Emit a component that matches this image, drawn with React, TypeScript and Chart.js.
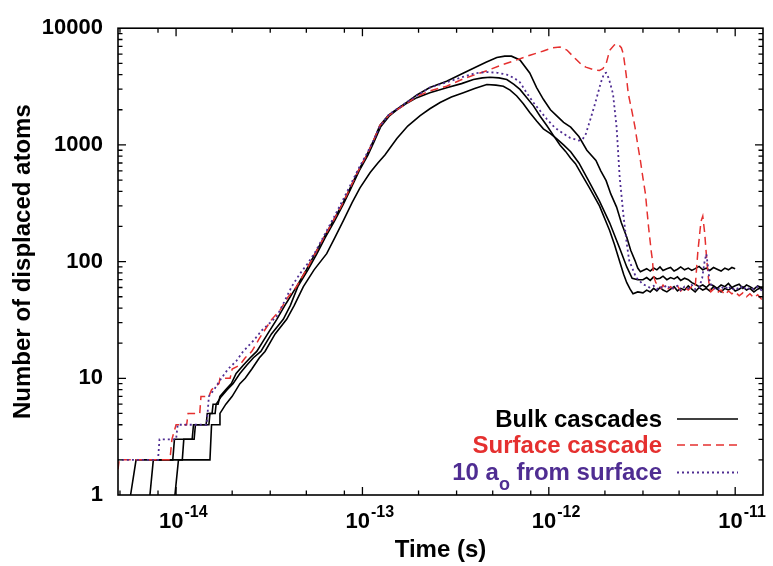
import React, { useEffect, useRef } from 'react';
import { Chart, registerables } from 'chart.js';

Chart.register(...registerables);

// ---------- data (time in femtoseconds, number of displaced atoms) ----------
const bulkA: [number, number][] = [
  [5.7, 1], [6.1, 2], [9.6, 2], [9.8, 3], [12.5, 3], [12.7, 4], [14.5, 4], [14.7, 5], [15.6, 5], [15.8, 6],
  [16.8, 6], [17.2, 7], [18.5, 8], [19.8, 9], [21, 11], [23, 13], [25, 15], [27.1, 17], [31, 24], [34.7, 32],
  [39, 44], [44.3, 61], [50, 85], [55.7, 117], [62, 160], [69.8, 224], [78, 310], [86, 429], [95, 600],
  [105.5, 819], [115, 1100], [124, 1466], [138, 1800], [153, 2027], [175, 2350], [196, 2680], [230, 3100],
  [283, 3510], [340, 4050], [394, 4540], [460, 5100], [526, 5600], [580, 5760], [630, 5760], [700, 5350],
  [790, 4130], [860, 3100], [935, 2460], [1020, 2000], [1100, 1780], [1200, 1560], [1310, 1420], [1450, 1180],
  [1600, 900], [1790, 735], [1900, 600], [2030, 494], [2150, 380], [2310, 293], [2450, 215], [2620, 162],
  [2750, 125], [2900, 102], [3000, 88], [3100, 82],
  [3200, 84], [3350, 87], [3500, 83], [3650, 88], [3800, 85], [3950, 90], [4100, 84], [4300, 87], [4500, 89],
  [4700, 83], [4900, 86], [5100, 90], [5350, 85], [5600, 88], [5850, 84], [6100, 87], [6400, 91], [6700, 85],
  [7000, 88], [7300, 84], [7650, 89], [8000, 86], [8400, 83], [8800, 88], [9200, 85], [9600, 89], [10000, 87],
];

const bulkB: [number, number][] = [
  [7.24, 1], [7.55, 2], [10.8, 2], [11, 3], [12.2, 3], [12.4, 4], [15, 4], [15.2, 5], [16.2, 5], [16.4, 6],
  [17.5, 7], [18.8, 8], [20.2, 9], [22, 11], [24, 13], [26, 15], [28.5, 17], [32.5, 24], [37.6, 32], [41, 42],
  [45, 61], [51, 85], [57, 117], [63, 160], [71, 224], [79, 310], [87, 429], [96, 600], [107, 819], [116, 1080],
  [125, 1420], [139, 1760], [153, 2000], [175, 2300], [196, 2540], [230, 2800], [283, 3085], [340, 3350],
  [394, 3630], [440, 3750], [484, 3800], [540, 3750], [595, 3630], [650, 3300], [700, 2990], [760, 2550],
  [827, 2160], [900, 1750], [975, 1466], [1060, 1200], [1150, 995], [1230, 880], [1310, 767], [1390, 690],
  [1500, 560], [1650, 430], [1870, 300], [2120, 185], [2250, 140], [2400, 100], [2520, 78], [2620, 66],
  [2730, 58], [2830, 53],
  [3000, 55], [3200, 54], [3350, 57], [3500, 55], [3650, 59], [3800, 56], [3950, 60], [4100, 57], [4300, 55],
  [4500, 58], [4700, 61], [4900, 56], [5100, 59], [5350, 57], [5600, 62], [5850, 58], [6100, 55], [6400, 60],
  [6700, 57], [7000, 59], [7300, 56], [7650, 61], [8000, 58], [8400, 55], [8800, 59], [9200, 57], [9600, 60],
  [10000, 56], [10500, 58], [11000, 61], [11500, 57], [12000, 59], [12600, 55], [13200, 58], [13800, 60], [14100, 57],
];

const bulkC: [number, number][] = [
  [9.86, 1], [10.3, 2], [15.2, 2], [15.5, 4], [17, 4], [17.2, 5], [18.5, 6], [20, 7], [22, 9], [23.5, 10],
  [25.5, 12], [28, 15], [30, 17], [34, 24], [39.2, 32], [43, 42], [48.2, 61], [55, 85], [64.3, 117], [71, 160],
  [79, 224], [88, 320], [97, 429], [110, 580], [121, 700], [132, 819], [153, 1133], [175, 1450], [204, 1780],
  [230, 2040], [261, 2305], [300, 2570], [348, 2800], [400, 3050], [465, 3296], [520, 3250], [570, 3185],
  [620, 2950], [673, 2624], [730, 2250], [790, 1897], [860, 1600], [935, 1374], [1020, 1250], [1100, 1133],
  [1200, 1000], [1310, 873], [1450, 700], [1650, 480], [1870, 330], [2120, 215], [2400, 130], [2620, 90],
  [2800, 72], [3000, 70],
  [3200, 70], [3350, 73], [3500, 69], [3650, 74], [3800, 71], [3950, 72], [4100, 75], [4300, 70], [4500, 73],
  [4700, 71], [4900, 74], [5100, 69], [5350, 72], [5600, 70], [5850, 66], [6100, 64], [6400, 61], [6700, 63],
  [7000, 60], [7300, 64], [7650, 62], [8000, 59], [8400, 63], [8800, 61], [9200, 65], [9600, 60], [10000, 62],
  [10500, 64], [11000, 59], [11500, 63], [12000, 61], [12600, 58], [13200, 62], [13800, 60], [14100, 61],
];

const surfaceCascade: [number, number][] = [
  [4.7, 1], [4.95, 2], [9.27, 2], [9.5, 3], [10, 4], [11.4, 4], [11.6, 5], [13.4, 5], [13.6, 7], [15, 7],
  [15.5, 8], [17, 9], [17.2, 10], [19.5, 10], [20, 12], [22, 13], [23.5, 15], [25.5, 17], [28, 22], [32.6, 32],
  [36, 38], [40, 50], [44.3, 61], [50, 85], [55.7, 117], [62, 160], [69.8, 224], [78, 310], [86, 429], [95, 600],
  [105.5, 819], [115, 1100], [124, 1466], [138, 1780], [153, 2000], [175, 2300], [196, 2600], [230, 2900],
  [283, 3185], [350, 3700], [465, 4325], [550, 4800], [673, 5350], [800, 5900], [935, 6370], [1050, 6800],
  [1150, 6900], [1250, 6500], [1390, 5470], [1500, 4850], [1580, 4640], [1750, 4400], [1870, 4345], [1950, 4500],
  [2030, 4955], [2120, 6445], [2250, 7200], [2350, 7350], [2450, 6800], [2510, 6040], [2600, 4000], [2670, 2740],
  [2800, 1900], [2900, 1420], [3000, 1000], [3100, 735], [3200, 520], [3300, 380], [3430, 197], [3550, 120],
  [3600, 102], [3650, 75], [3750, 66], [3900, 62],
  [4000, 59], [4100, 63], [4300, 57], [4500, 61], [4700, 58], [4900, 62], [5100, 56], [5350, 60], [5600, 57],
  [5850, 61], [6100, 60], [6300, 120], [6550, 220], [6700, 245], [6850, 180], [7050, 100], [7250, 62],
  [7400, 55], [7650, 58], [8000, 54], [8400, 57], [8800, 52], [9200, 56], [9600, 53], [10000, 55], [10500, 51],
  [11000, 54], [11500, 50], [12000, 53], [12600, 49], [13200, 52], [13800, 48], [14100, 50],
];

const nearSurface: [number, number][] = [
  [4, 2], [8, 2], [8.15, 3], [10, 3], [10.2, 4], [14.6, 4], [15, 7], [16, 8], [17.5, 10], [19, 12], [21, 14],
  [22.9, 17], [26, 21], [29, 26], [32, 30], [34.7, 34], [38, 45], [41.7, 61], [46, 78], [50.5, 95], [55.7, 120],
  [62, 165], [69.8, 235], [78, 330], [86, 450], [95, 620], [105.5, 840], [115, 1100], [124, 1440], [138, 1800],
  [153, 2030], [175, 2350], [196, 2650], [230, 3100], [283, 3440], [350, 3850], [400, 4100], [465, 4210],
  [530, 4150], [595, 4000], [650, 3750], [700, 3440], [760, 2800], [827, 2305], [900, 1950], [975, 1667],
  [1080, 1400], [1200, 1248], [1300, 1150], [1450, 1089], [1520, 1120], [1580, 1242], [1680, 1700], [1790, 2400],
  [1900, 3400], [1980, 4100], [2030, 4150], [2100, 3700], [2210, 2740], [2310, 1420], [2400, 529], [2510, 256],
  [2620, 142], [2700, 102], [2940, 73], [3200, 64], [3470, 60],
  [3650, 62], [3800, 58], [3950, 61], [4100, 59], [4300, 63], [4500, 58], [4700, 60], [4900, 62], [5100, 57],
  [5350, 61], [5600, 59], [5850, 63], [6100, 58], [6400, 60], [6650, 72], [6850, 100], [7000, 116], [7150, 90],
  [7300, 66], [7650, 60], [8000, 57], [8400, 61], [8800, 58], [9200, 62], [9600, 57], [10000, 60], [10500, 58],
  [11000, 62], [11500, 57], [12000, 60], [12600, 58], [13200, 61], [13800, 57], [14100, 59],
];

// axes
const xMin = 4.88e-15;
const xMax = 1.41e-11;
const yMin = 1;
const yMax = 10000;
const xDecades = [-14, -13, -12, -11];
const xMinorFactors = [2, 3.2, 5, 8];
const yTickValues = [1, 10, 100, 1000, 10000];
const yMinorFactors = [2, 3, 4, 5, 6, 7, 8, 9];

// legend
const legendLabels = ['Bulk cascades', 'Surface cascade', '10 a|o| from surface'];

const FONT = '"Liberation Sans", Arial, Helvetica, sans-serif';
const RED = '#e5302f';
const PURPLE = '#4f2d92';
const FS = 1e-15;

const toXY = (arr: [number, number][]) => arr.map(([t, n]) => ({ x: t * FS, y: n }));

const legendStyles = [
  { color: '#000000', dash: [] as number[], width: 1.6, y: 419 },
  { color: RED, dash: [8, 5], width: 1.5, y: 445 },
  { color: PURPLE, dash: [2, 3], width: 1.8, y: 472.5 },
];

const gnuplotPlugin = {
  id: 'gnuplotFrame',
  afterDatasetsDraw(chart: any) {
    const { ctx, chartArea, scales } = chart;
    const { left, right, top, bottom } = chartArea;
    const xs = scales.x;
    const ys = scales.y;
    ctx.save();
    ctx.strokeStyle = '#000';
    ctx.lineWidth = 1.3;
    ctx.setLineDash([]);
    ctx.beginPath();
    const MAJ = 8;
    const MIN = 4.5;
    // x ticks (bottom & top, inward)
    for (let d = -15; d <= -11; d++) {
      const base = Math.pow(10, d);
      const vals: [number, number][] = [[base, MAJ], ...xMinorFactors.map((f) => [base * f, MIN] as [number, number])];
      for (const [v, len] of vals) {
        const px = xs.getPixelForValue(v);
        if (px < left + 0.5 || px > right - 0.5) continue;
        ctx.moveTo(px, bottom);
        ctx.lineTo(px, bottom - len);
        ctx.moveTo(px, top);
        ctx.lineTo(px, top + len);
      }
    }
    // y ticks (left & right, inward)
    for (let d = 0; d <= 4; d++) {
      const base = Math.pow(10, d);
      const vals: [number, number][] = [[base, MAJ]];
      if (d < 4) yMinorFactors.forEach((f) => vals.push([base * f, MIN]));
      for (const [v, len] of vals) {
        const py = ys.getPixelForValue(v);
        if (py < top + 0.5 || py > bottom - 0.5) continue;
        ctx.moveTo(left, py);
        ctx.lineTo(left + len, py);
        ctx.moveTo(right, py);
        ctx.lineTo(right - len, py);
      }
    }
    ctx.stroke();
    ctx.lineWidth = 1.6;
    ctx.strokeRect(left, top, right - left, bottom - top);

    // x tick labels 10^n
    ctx.fillStyle = '#000';
    ctx.textAlign = 'left';
    ctx.textBaseline = 'alphabetic';
    for (const d of xDecades) {
      const px = xs.getPixelForValue(Math.pow(10, d));
      ctx.font = `bold 22px ${FONT}`;
      const w = ctx.measureText('10').width;
      const x0 = px - 17;
      ctx.fillText('10', x0, 528);
      ctx.font = `bold 16px ${FONT}`;
      ctx.fillText(String(d), x0 + w + 1, 517);
    }

    // legend
    const textRight = 662;
    const sampleL = 677;
    const sampleR = 738;
    legendLabels.forEach((label, i) => {
      const st = legendStyles[i];
      const parts = label.split('|').map((t, k) => ({ t, sub: k % 2 === 1 }));
      const mainFont = `bold 24px ${FONT}`;
      const subFont = `bold 18px ${FONT}`;
      let total = 0;
      const widths = parts.map((p) => {
        ctx.font = p.sub ? subFont : mainFont;
        const w = ctx.measureText(p.t).width;
        total += w;
        return w;
      });
      let x = textRight - total;
      const baseline = st.y - 1 + 8.5;
      ctx.fillStyle = st.color;
      parts.forEach((p, k) => {
        ctx.font = p.sub ? subFont : mainFont;
        ctx.fillText(p.t, x, p.sub ? baseline + 10 : baseline);
        x += widths[k];
      });
      ctx.beginPath();
      ctx.strokeStyle = st.color;
      ctx.lineWidth = st.width;
      ctx.setLineDash(st.dash);
      ctx.moveTo(sampleL, st.y);
      ctx.lineTo(sampleR, st.y);
      ctx.stroke();
    });
    ctx.restore();
  },
};

export default function App() {
  const canvasRef = useRef<HTMLCanvasElement | null>(null);

  useEffect(() => {
    const canvas = canvasRef.current;
    if (!canvas) return;
    const blackStyle = { borderColor: '#000000', borderWidth: 1.6, borderDash: [] as number[] };
    const chart = new Chart(canvas, {
      type: 'line',
      data: {
        datasets: [
          { label: '10 a_o from surface', data: toXY(nearSurface), borderColor: PURPLE, borderWidth: 1.8, borderDash: [2, 3] },
          { label: 'Surface cascade', data: toXY(surfaceCascade), borderColor: RED, borderWidth: 1.5, borderDash: [8, 5] },
          { label: 'Bulk cascade 3', data: toXY(bulkC), ...blackStyle },
          { label: 'Bulk cascade 2', data: toXY(bulkB), ...blackStyle },
          { label: 'Bulk cascades', data: toXY(bulkA), ...blackStyle },
        ],
      },
      options: {
        responsive: false,
        animation: false,
        devicePixelRatio: 1,
        layout: { padding: { top: 21, right: 10, bottom: 0, left: 0 } },
        plugins: { legend: { display: false }, tooltip: { enabled: false } },
        elements: { point: { radius: 0, hoverRadius: 0 }, line: { tension: 0, fill: false } },
        scales: {
          x: {
            type: 'logarithmic',
            min: xMin,
            max: xMax,
            grid: { display: false, drawTicks: false },
            border: { display: false },
            ticks: { display: false },
            title: {
              display: true,
              text: 'Time (s)',
              color: '#000',
              font: { family: FONT, size: 24, weight: 'bold' },
              padding: { top: 0, bottom: 1 },
            },
            afterFit: (s: any) => {
              s.height = 71;
            },
          },
          y: {
            type: 'logarithmic',
            min: yMin,
            max: yMax,
            grid: { display: false, drawTicks: false },
            border: { display: false },
            ticks: {
              color: '#000',
              font: { family: FONT, size: 22, weight: 'bold' },
              padding: 15,
              autoSkip: false,
              callback: (v: any) => String(v),
            },
            afterBuildTicks: (s: any) => {
              s.ticks = yTickValues.map((v) => ({ value: v }));
            },
            title: {
              display: true,
              text: 'Number of displaced atoms',
              color: '#000',
              font: { family: FONT, size: 24, weight: 'bold' },
              padding: { top: 9, bottom: 0 },
            },
            afterFit: (s: any) => {
              s.width = 118;
            },
          },
        },
      } as any,
      plugins: [gnuplotPlugin],
    });
    return () => chart.destroy();
  }, []);

  return (
    <div style={{ position: 'fixed', left: 0, top: 0, width: 773, height: 566, background: '#fff' }}>
      <canvas ref={canvasRef} width={773} height={566} style={{ display: 'block', width: 773, height: 566 }} />
    </div>
  );
}
